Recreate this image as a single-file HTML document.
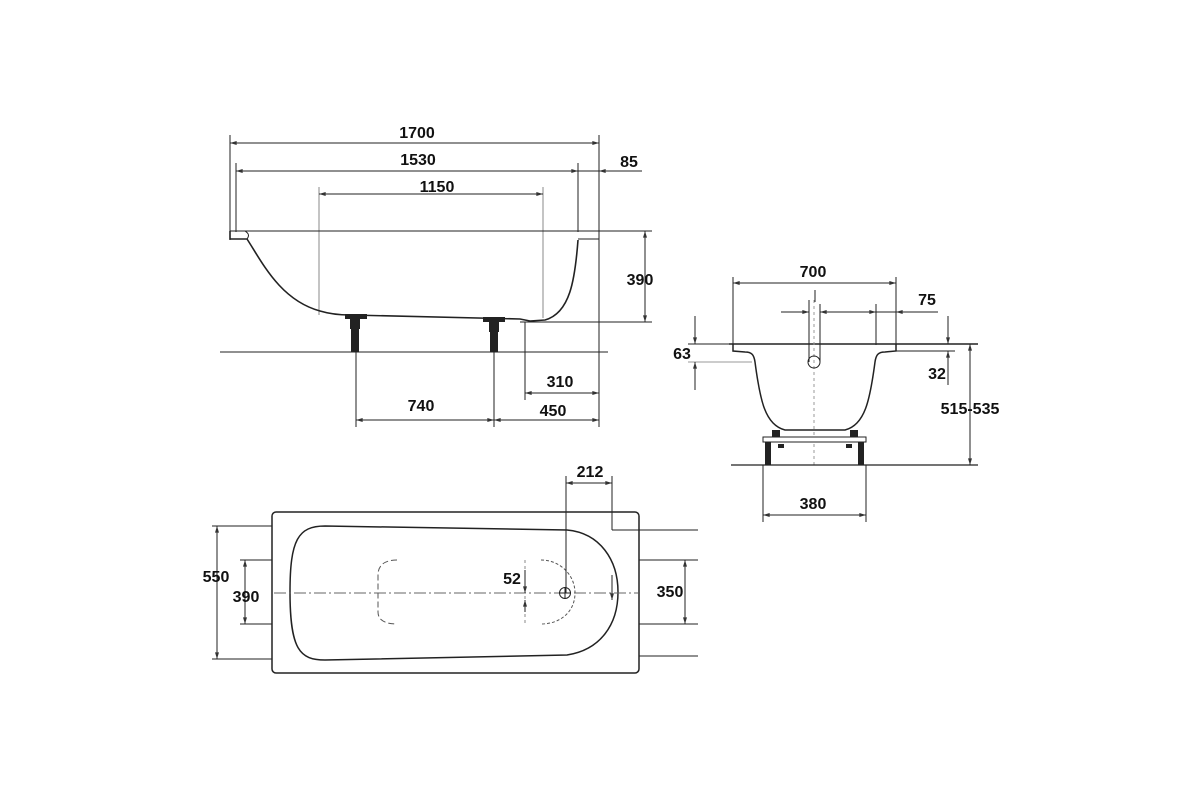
<!DOCTYPE html>
<html><head><meta charset="utf-8"><style>html,body{margin:0;padding:0;background:#fff}svg{display:block}text{font-family:"Liberation Sans",sans-serif;font-weight:bold;font-size:16px;fill:#111;text-anchor:middle}</style></head><body>
<svg width="1200" height="800" viewBox="0 0 1200 800" xmlns="http://www.w3.org/2000/svg">
<defs><marker id="a" viewBox="0 0 10 6" refX="10" refY="3" markerWidth="8" markerHeight="4" orient="auto-start-reverse"><path d="M0,0L10,3L0,6Z" fill="#333"/></marker></defs>
<g stroke="#222" fill="none" stroke-width="1">
<line x1="230" y1="135" x2="230" y2="240"/><line x1="599" y1="135" x2="599" y2="427"/>
<line x1="230" y1="143" x2="599" y2="143" marker-start="url(#a)" marker-end="url(#a)"/>
<line x1="236" y1="163" x2="236" y2="232"/><line x1="578" y1="163" x2="578" y2="232"/>
<line x1="236" y1="171" x2="578" y2="171" marker-start="url(#a)" marker-end="url(#a)"/>
<line x1="578" y1="171" x2="599" y2="171"/><line x1="612" y1="171" x2="642" y2="171"/><line x1="612" y1="171" x2="599" y2="171" marker-end="url(#a)"/>
<line x1="319" y1="187" x2="319" y2="315" stroke="#888"/><line x1="543" y1="187" x2="543" y2="318" stroke="#888"/>
<line x1="319" y1="194" x2="543" y2="194" marker-start="url(#a)" marker-end="url(#a)"/>
<line x1="230" y1="231" x2="652" y2="231"/>
<line x1="520" y1="322" x2="652" y2="322"/>
<line x1="645" y1="231" x2="645" y2="322" marker-start="url(#a)" marker-end="url(#a)"/>
<line x1="220" y1="352" x2="608" y2="352"/>
<line x1="525" y1="322" x2="525" y2="400"/>
<line x1="525" y1="393" x2="599" y2="393" marker-start="url(#a)" marker-end="url(#a)"/>
<line x1="356" y1="352" x2="356" y2="427"/><line x1="494" y1="352" x2="494" y2="427"/>
<line x1="356" y1="420" x2="494" y2="420" marker-start="url(#a)" marker-end="url(#a)"/>
<line x1="494" y1="420" x2="599" y2="420" marker-start="url(#a)" marker-end="url(#a)"/>
<path d="M230 231 L230 239 L247 239 C262 262 280 300 320 311 C330 314 340 315 350 315 L520 319 L530 321 L545 320 C570 313 575 280 578 240" stroke-width="1.6"/>
<path d="M245 231 C248 233 250 235 247 239" /><path d="M578 231 L599 231 L599 239 L578 239"/>
</g>
<g fill="#222">
<rect x="345" y="314" width="22" height="5"/><rect x="350" y="319" width="10" height="10"/><rect x="351" y="329" width="8" height="23"/>
<rect x="483" y="317" width="22" height="5"/><rect x="489" y="322" width="10" height="10"/><rect x="490" y="332" width="8" height="20"/>
</g>
<text x="417" y="138">1700</text><text x="418" y="165">1530</text><text x="437" y="192">1150</text>
<text x="629" y="167">85</text><text x="640" y="285">390</text><text x="560" y="387">310</text>
<text x="421" y="411">740</text><text x="553" y="416">450</text>
<g stroke="#222" fill="none" stroke-width="1">
<line x1="733" y1="277" x2="733" y2="345"/><line x1="896" y1="277" x2="896" y2="345"/>
<line x1="733" y1="283" x2="896" y2="283" marker-start="url(#a)" marker-end="url(#a)"/>
<line x1="809" y1="300" x2="809" y2="362"/><line x1="820" y1="304" x2="820" y2="362"/><line x1="876" y1="304" x2="876" y2="345"/>
<line x1="815" y1="290" x2="815" y2="302"/>
<line x1="781" y1="312" x2="809" y2="312" marker-end="url(#a)"/><line x1="820" y1="312" x2="876" y2="312" marker-start="url(#a)" marker-end="url(#a)"/>
<line x1="876" y1="312" x2="938" y2="312"/><line x1="910" y1="312" x2="896" y2="312" marker-end="url(#a)"/>
<line x1="729" y1="344" x2="978" y2="344" stroke-width="1.4"/>
<line x1="896" y1="351" x2="955" y2="351"/>
<line x1="688" y1="362" x2="752" y2="362" stroke="#999"/><line x1="688" y1="344" x2="729" y2="344"/>
<line x1="695" y1="316" x2="695" y2="344" marker-end="url(#a)"/><line x1="695" y1="390" x2="695" y2="362" marker-end="url(#a)"/>
<line x1="948" y1="316" x2="948" y2="344" marker-end="url(#a)"/><line x1="948" y1="385" x2="948" y2="351" marker-end="url(#a)"/>
<line x1="970" y1="344" x2="970" y2="465" marker-start="url(#a)" marker-end="url(#a)"/>
<path d="M733 344 L733 351 L745 352 C752 352 754 355 755 362 C760 400 765 425 785 430 L845 430 C865 425 870 400 875 362 C876 355 878 352 885 352 L896 351 L896 344" stroke-width="1.5"/>
<line x1="814" y1="300" x2="814" y2="465" stroke="#999" stroke-dasharray="3,3"/>
<circle cx="814" cy="362" r="6"/>
<line x1="731" y1="465" x2="978" y2="465" stroke-width="1.3"/>
<rect x="763" y="437" width="103" height="5" fill="#fff"/>
<line x1="763" y1="465" x2="763" y2="522"/><line x1="866" y1="465" x2="866" y2="522"/>
<line x1="763" y1="515" x2="866" y2="515" marker-start="url(#a)" marker-end="url(#a)"/>
</g>
<g fill="#222"><rect x="765" y="442" width="6" height="23"/><rect x="858" y="442" width="6" height="23"/>
<rect x="772" y="430" width="8" height="7"/><rect x="850" y="430" width="8" height="7"/><rect x="778" y="444" width="6" height="4"/><rect x="846" y="444" width="6" height="4"/></g>
<text x="813" y="277">700</text><text x="927" y="305">75</text><text x="682" y="359">63</text><text x="937" y="379">32</text><text x="970" y="414">515-535</text><text x="813" y="509">380</text>
<g stroke="#222" fill="none" stroke-width="1">
<rect x="272" y="512" width="367" height="161" rx="4" stroke-width="1.5"/>
<path d="M325 526 L567 530 C600 533 618 560 618 592 C618 625 600 650 567 655 L325 660 C300 660 290 650 290 592 C290 540 298 526 325 526 Z" stroke-width="1.5"/>
<line x1="274" y1="593" x2="638" y2="593" stroke="#666" stroke-dasharray="12,3,2,3"/>
<path d="M397 560 C385 560 378 565 378 575 L378 612 C378 620 385 624 397 624" stroke="#555" stroke-dasharray="6,3"/>
<path d="M541 560 C560 560 575 575 575 593 C575 612 560 624 541 624" stroke="#555" stroke-dasharray="3,2"/>
<line x1="525" y1="560" x2="525" y2="626" stroke="#888" stroke-dasharray="3,3"/>
<line x1="525" y1="570" x2="525" y2="593" marker-end="url(#a)"/><line x1="525" y1="612" x2="525" y2="600" marker-end="url(#a)"/>
<circle cx="565" cy="593" r="5.5"/><line x1="559" y1="593" x2="571" y2="593"/><line x1="565" y1="587" x2="565" y2="599"/>
<line x1="566" y1="476" x2="566" y2="593"/><line x1="612" y1="476" x2="612" y2="530"/><line x1="612" y1="530" x2="698" y2="530"/>
<line x1="566" y1="483" x2="612" y2="483" marker-start="url(#a)" marker-end="url(#a)"/>
<line x1="612" y1="575" x2="612" y2="600" marker-end="url(#a)"/>
<line x1="212" y1="526" x2="272" y2="526"/><line x1="212" y1="659" x2="272" y2="659"/>
<line x1="217" y1="526" x2="217" y2="659" marker-start="url(#a)" marker-end="url(#a)"/>
<line x1="240" y1="560" x2="272" y2="560"/><line x1="240" y1="624" x2="272" y2="624"/>
<line x1="245" y1="560" x2="245" y2="624" marker-start="url(#a)" marker-end="url(#a)"/>
<line x1="639" y1="560" x2="698" y2="560"/><line x1="639" y1="624" x2="698" y2="624"/><line x1="639" y1="656" x2="698" y2="656"/>
<line x1="685" y1="560" x2="685" y2="624" marker-start="url(#a)" marker-end="url(#a)"/>
</g>
<text x="590" y="477">212</text><text x="216" y="582">550</text><text x="246" y="602">390</text><text x="670" y="597">350</text><text x="512" y="584">52</text>
</svg>
</body></html>
